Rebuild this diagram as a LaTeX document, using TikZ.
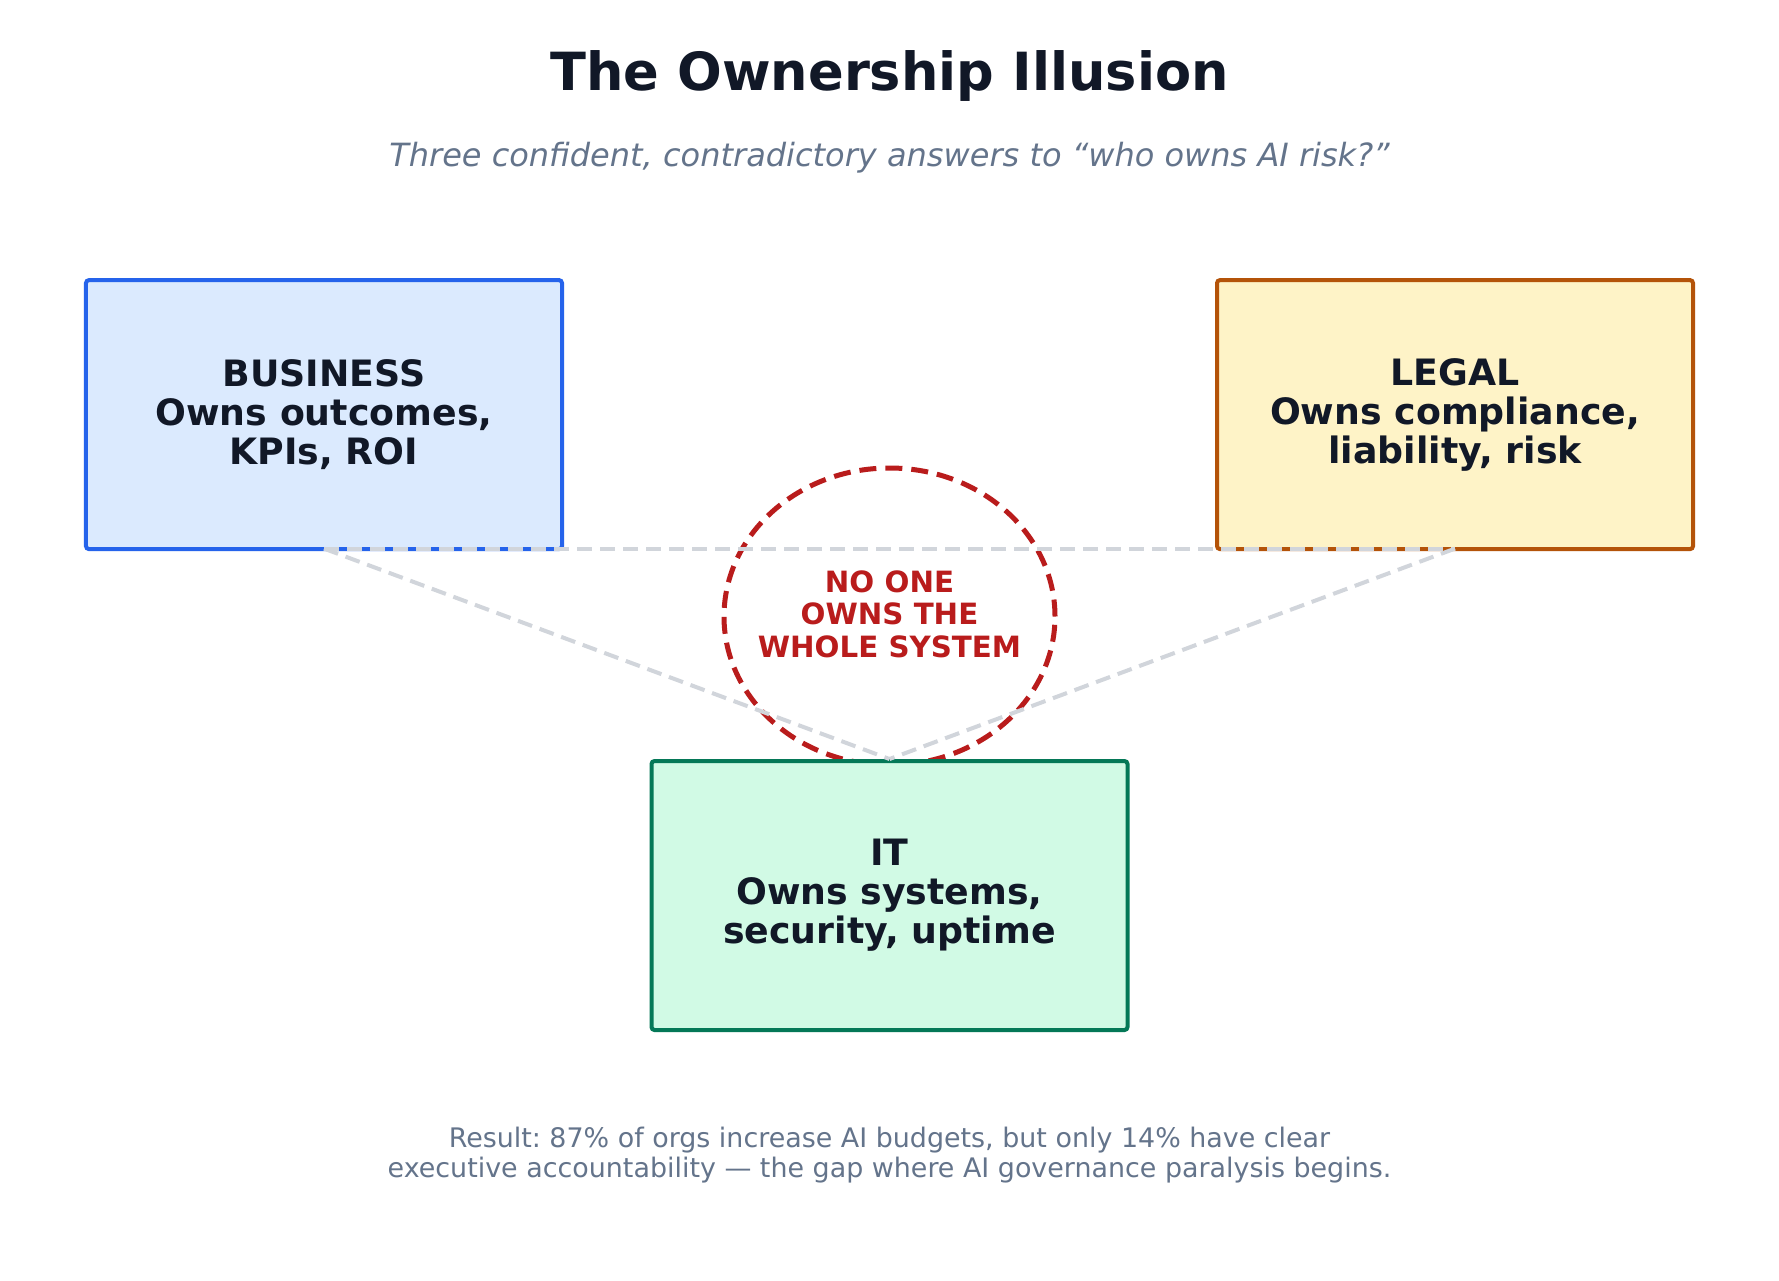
\documentclass[tikz,border=0pt]{standalone}
\usepackage{fontspec}
\setmainfont{DejaVu Sans}
\usetikzlibrary{shapes.geometric}
\frenchspacing
\definecolor{titlec}{HTML}{111827}
\definecolor{subc}{HTML}{64748B}
\definecolor{bizfill}{HTML}{DBEAFE}
\definecolor{bizdraw}{HTML}{2563EB}
\definecolor{legfill}{HTML}{FEF3C7}
\definecolor{legdraw}{HTML}{B45309}
\definecolor{itfill}{HTML}{D1FAE5}
\definecolor{itdraw}{HTML}{047857}
\definecolor{gapc}{HTML}{B91C1C}
\definecolor{linkc}{HTML}{D1D5DB}
\begin{document}
\begin{tikzpicture}[x=1bp,y=-1bp,
  box/.style={draw, line width=4bp, rounded corners=3bp, minimum width=476bp, minimum height=269bp,
    inner sep=0pt, align=center, text=titlec, font=\frenchspacing\bfseries\fontsize{36.3bp}{39bp}\selectfont},
  link/.style={draw=linkc, line width=4bp, dash pattern=on 15bp off 8bp},
  gapring/.style={draw=gapc, line width=5bp, dash pattern=on 17bp off 9bp, ellipse,
    minimum width=331bp, minimum height=297bp, inner sep=0pt}]
\useasboundingbox (0,0) rectangle (1779,1280);
\fill[white] (0,0) rectangle (1779,1280);

\node[anchor=base, text=titlec, font=\bfseries\fontsize{52.6bp}{60bp}\selectfont] (title) at (889.5,90) {The Ownership Illusion};
\node[anchor=base, text=subc, font=\frenchspacing\itshape\fontsize{32bp}{38bp}\selectfont] (subtitle) at (889.5,166) {Three confident, contradictory answers to “who owns AI risk?”};

\node[box, draw=bizdraw, fill=bizfill] (biz) at (324,414.6) {BUSINESS\\Owns outcomes,\\KPIs, ROI};
\node[box, draw=legdraw, fill=legfill] (legal) at (1455,414.6) {LEGAL\\Owns compliance,\\liability, risk};
\node[gapring] (gap) at (889.5,616.5) {};
\node[box, draw=itdraw, fill=itfill] (it) at (889.5,895.5) {IT\\Owns systems,\\security, uptime};

\draw[link] ([yshift=2.5bp]biz.south) -- ([yshift=2.5bp]legal.south);
\draw[link] ([yshift=2.5bp]biz.south) -- (it.north);
\draw[link] ([yshift=2.5bp]legal.south) -- (it.north);

\node[align=center, text=gapc, font=\bfseries\fontsize{29.3bp}{32.5bp}\selectfont] (gaptext) at (889.5,614) {NO ONE\\OWNS THE\\WHOLE SYSTEM};

\node[align=center, text=subc, font=\frenchspacing\fontsize{26.9bp}{30bp}\selectfont] (footer) at (889.5,1155) {Result: 87\% of orgs increase AI budgets, but only 14\% have clear\\executive accountability — the gap where AI governance paralysis begins.};
\end{tikzpicture}
\end{document}
